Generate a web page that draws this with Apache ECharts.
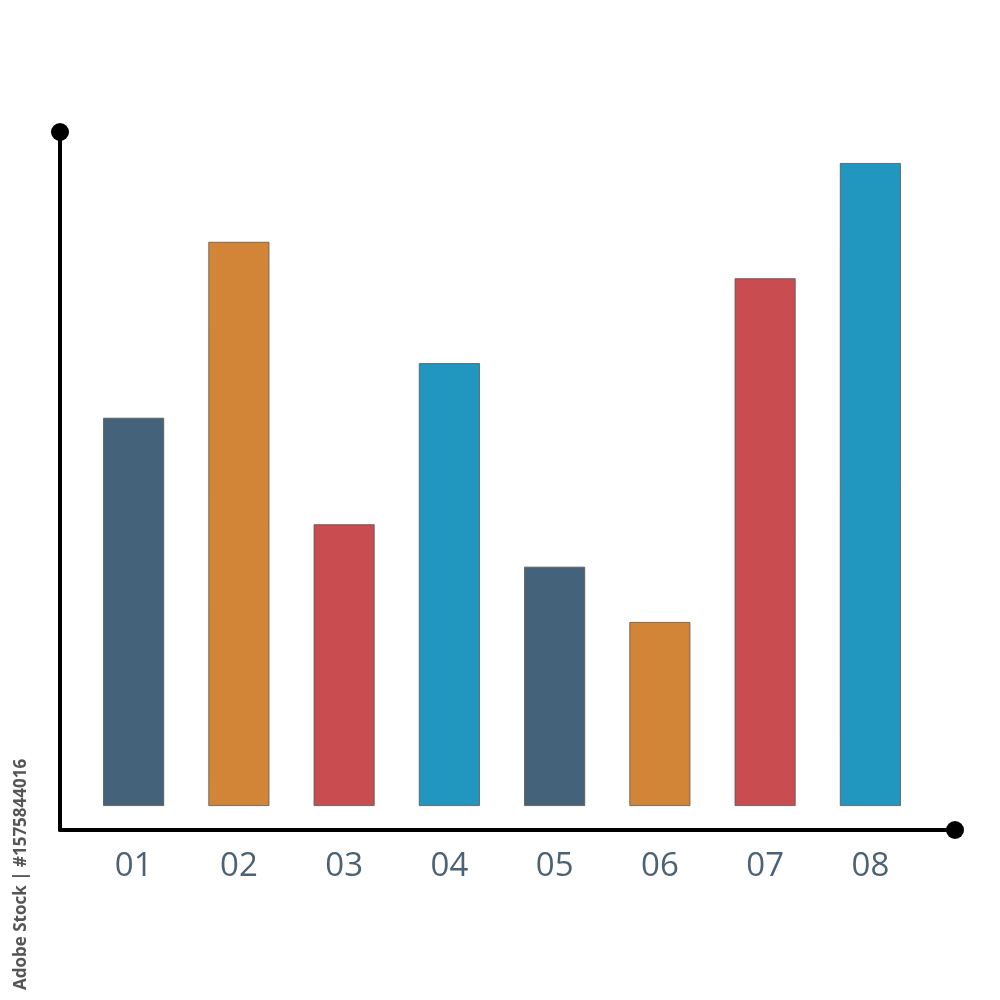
<!DOCTYPE html>
<html>
<head>
<meta charset="utf-8">
<script src="https://cdn.jsdelivr.net/npm/echarts@6/dist/echarts.min.js"></script>
<style>html,body{margin:0;padding:0;background:#fff}#c{width:1000px;height:1000px}</style>
</head>
<body>
<div id="c"></div>
<script>
const categories = ['01','02','03','04','05','06','07','08'];
const values = [57.6, 83.7, 41.8, 65.7, 35.5, 27.3, 78.3, 95.4];
const colors = ['#44627a','#d38537','#c94c51','#2196be','#44627a','#d38537','#c94c51','#2196be'];
const yMin = -3.56;
const yMax = 100;

const chart = echarts.init(document.getElementById('c'), null, {renderer:'canvas'});
chart.setOption({
  backgroundColor: '#ffffff',
  animation: false,
  grid: [
    {left: 60, right: 45, top: 132, bottom: 170},
    {left: 81, width: 842, top: 132, bottom: 170}
  ],
  xAxis: [
    {gridIndex: 0, type: 'value', min: 0, max: 1,
     axisLine: {show: true, lineStyle: {color: '#000', width: 4}, symbol: ['none','circle'], symbolSize: [18,18]},
     axisTick: {show: false}, axisLabel: {show: false}, splitLine: {show: false}},
    {gridIndex: 1, type: 'category', data: categories, boundaryGap: true,
     axisLine: {show: false}, axisTick: {show: false}, splitLine: {show: false},
     axisLabel: {show: true, color: '#4a6275', fontSize: 33, fontFamily: 'Open Sans', margin: 20}}
  ],
  yAxis: [
    {gridIndex: 0, type: 'value', min: 0, max: 1,
     axisLine: {show: true, lineStyle: {color: '#000', width: 4}, symbol: ['none','circle'], symbolSize: [18,18]},
     axisTick: {show: false}, axisLabel: {show: false}, splitLine: {show: false}},
    {gridIndex: 1, type: 'value', min: yMin, max: yMax, show: false, splitLine: {show: false}}
  ],
  series: [{
    type: 'bar',
    xAxisIndex: 1, yAxisIndex: 1,
    barWidth: 61,
    data: values.map((v, i) => ({value: v, itemStyle: {color: colors[i]}})),
    itemStyle: {borderColor: '#555', borderWidth: 0.8}
  }],
  graphic: [{
    type: 'text',
    x: 13, y: 990, rotation: Math.PI / 2,
    style: {text: 'Adobe Stock | #1575844016', fill: '#555', font: 'bold 17px "Open Sans"', textVerticalAlign: 'top'}
  }]
});
</script>
</body>
</html>
